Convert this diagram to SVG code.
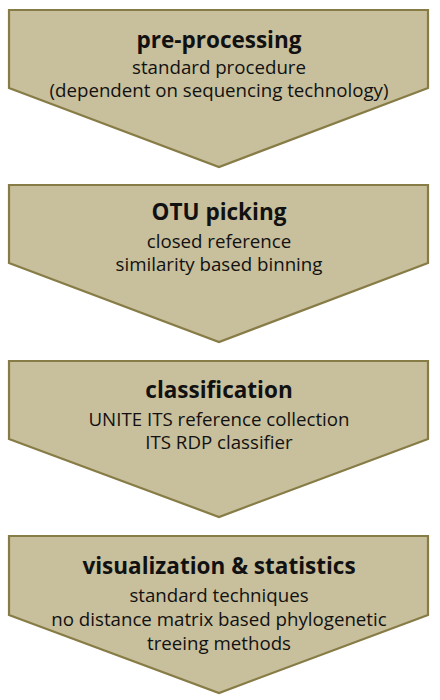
<svg xmlns="http://www.w3.org/2000/svg" width="440" height="700" viewBox="0 0 440 700">
<style>
.box{fill:#c8bf9c;stroke:#877c46;stroke-width:2.2;stroke-linejoin:miter}
.t{font-family:"Open Sans","Liberation Sans",sans-serif;font-weight:bold;font-size:22.5px;fill:#111;text-anchor:middle}
.b{font-family:"Open Sans","Liberation Sans",sans-serif;font-size:18.7px;fill:#111;text-anchor:middle}
</style>
<rect width="440" height="700" fill="#ffffff"/>
<g id="preprocessing">
<polygon class="box" points="9,10 428,10 428,88 219,167 9,88"/>
<text class="t" x="219" y="48">pre-processing</text>
<text class="b" x="219" y="74">standard procedure</text>
<text class="b" x="219" y="97">(dependent on sequencing technology)</text>
</g>
<g id="otu-picking">
<polygon class="box" points="9,185 428,185 428,263 219,342 9,263"/>
<text class="t" x="219" y="220">OTU picking</text>
<text class="b" x="219" y="248">closed reference</text>
<text class="b" x="219" y="271">similarity based binning</text>
</g>
<g id="classification">
<polygon class="box" points="9,361 428,361 428,439 219,517 9,439"/>
<text class="t" x="219" y="398">classification</text>
<text class="b" x="219" y="426">UNITE ITS reference collection</text>
<text class="b" x="219" y="449">ITS RDP classifier</text>
</g>
<g id="visualization">
<polygon class="box" points="9,536 428,536 428,615 219,693 9,615"/>
<text class="t" x="219" y="574">visualization &amp; statistics</text>
<text class="b" x="219" y="602">standard techniques</text>
<text class="b" x="219" y="626">no distance matrix based phylogenetic</text>
<text class="b" x="219" y="650">treeing methods</text>
</g>
<g id="connectors"></g>
</svg>
